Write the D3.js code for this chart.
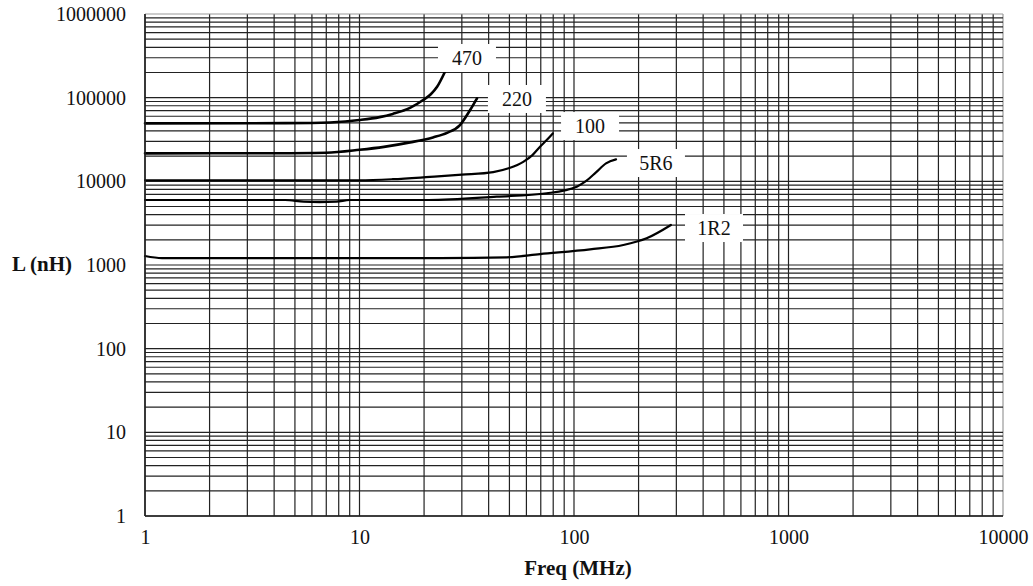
<!DOCTYPE html>
<html>
<head>
<meta charset="utf-8">
<script src="https://cdn.jsdelivr.net/npm/d3@7"></script>
<style>
  html, body { margin: 0; padding: 0; background: #fff; }
  svg { display: block; }
  text { font-family: "Liberation Serif", "Times New Roman", serif; fill: #111; }
</style>
</head>
<body>
<svg id="chart" width="1033" height="586"></svg>
<script>
// ---- data ----
const xTickValues = [1, 10, 100, 1000, 10000];
const yTickValues = [1, 10, 100, 1000, 10000, 100000, 1000000];
const xTickLabels = ["1", "10", "100", "1000", "10000"];
const yTickLabels = ["1", "10", "100", "1000", "10000", "100000", "1000000"];

const seriesNames = ["470", "220", "100", "5R6", "1R2"];

const freq470 = [1, 3, 6, 7.3, 10, 12.4, 14.3, 17.2, 19.8, 21.5, 23, 25];
const ind470  = [49300, 49500, 49800, 50500, 54000, 58500, 64000, 75500, 93800, 110000, 135000, 203000];

const freq220 = [1, 4, 7, 10, 13, 17.2, 22, 25.6, 29.4, 32.8, 35.3];
const ind220  = [21600, 21700, 22000, 23800, 25800, 29200, 33500, 38000, 47100, 71200, 98000];

const freq100 = [1, 5, 10, 14.3, 21.3, 30, 42, 50, 58, 64, 69.4, 75, 79.7];
const ind100  = [10300, 10300, 10300, 10600, 11300, 12000, 12900, 14400, 17100, 20600, 25900, 31600, 37500];

const freq5R6 = [1, 4.5, 5.5, 6.5, 7.8, 9, 21, 43.6, 74.6, 103, 114, 127, 141, 157];
const ind5R6  = [5980, 5980, 5700, 5650, 5700, 5980, 5980, 6550, 7200, 8630, 10100, 12900, 16400, 18300];

const freq1R2 = [1, 1.2, 10, 23.7, 48.6, 69.4, 118.8, 169.8, 218, 283];
const ind1R2  = [1280, 1210, 1210, 1210, 1236, 1352, 1538, 1734, 2083, 3006];

const labelFreq = [31.7, 54.2, 118.8, 241, 449.5];
const labelInd  = [298000, 96400, 45800, 16550, 2767];

const xTitle = "Freq (MHz)";
const yTitle = "L (nH)";

// ---- chart ----
const svg = d3.select("#chart");
const pLeft = 145, pRight = 1003, pTop = 14, pBottom = 516;

const x = d3.scaleLog().domain([1, 10000]).range([pLeft, pRight]);
const y = d3.scaleLog().domain([1, 1000000]).range([pBottom, pTop]);

function gridValues(lo, hi) {
  const v = [];
  for (let d = lo; d < hi; d *= 10) {
    for (let k = 1; k <= 9; k++) v.push(d * k);
  }
  v.push(hi);
  return v;
}
const xGrid = gridValues(1, 10000);
const yGrid = gridValues(1, 1000000);

const g = svg.append("g");

g.selectAll("line.vg").data(xGrid).enter().append("line")
  .attr("class", "vg")
  .attr("x1", d => x(d)).attr("x2", d => x(d))
  .attr("y1", pTop).attr("y2", pBottom)
  .attr("stroke", d => d === 10000 ? "#999" : "#222")
  .attr("stroke-width", 1.2);

g.selectAll("line.hg").data(yGrid).enter().append("line")
  .attr("class", "hg")
  .attr("y1", d => y(d)).attr("y2", d => y(d))
  .attr("x1", pLeft).attr("x2", pRight)
  .attr("stroke", d => d === 1000000 ? "#999" : "#222")
  .attr("stroke-width", 1.2);

// curves
const series = [
  { name: seriesNames[0], f: freq470, L: ind470, w: 2.6 },
  { name: seriesNames[1], f: freq220, L: ind220, w: 2.6 },
  { name: seriesNames[2], f: freq100, L: ind100, w: 2.2 },
  { name: seriesNames[3], f: freq5R6, L: ind5R6, w: 2.2 },
  { name: seriesNames[4], f: freq1R2, L: ind1R2, w: 2.2 }
];

const line = d3.line()
  .x(d => x(d[0]))
  .y(d => y(d[1]))
  .curve(d3.curveMonotoneX);

g.selectAll("path.curve").data(series).enter().append("path")
  .attr("class", "curve")
  .attr("d", s => line(s.f.map((f, i) => [f, s.L[i]])))
  .attr("fill", "none")
  .attr("stroke", "#000")
  .attr("stroke-width", s => s.w)
  .attr("stroke-linejoin", "round")
  .attr("stroke-linecap", "round");

// labels with white boxes
const labels = seriesNames.map((n, i) => ({ name: n, f: labelFreq[i], L: labelInd[i] }));
const lg = g.selectAll("g.lab").data(labels).enter().append("g").attr("class", "lab");
lg.append("rect")
  .attr("x", d => x(d.f) - 29)
  .attr("y", d => y(d.L) - 14)
  .attr("width", 58)
  .attr("height", 28)
  .attr("fill", "#fff");
lg.append("text")
  .attr("x", d => x(d.f))
  .attr("y", d => y(d.L))
  .attr("text-anchor", "middle")
  .attr("dominant-baseline", "central")
  .attr("font-size", 20)
  .text(d => d.name);

// axes tick labels
const xAxis = d3.axisBottom(x).tickValues(xTickValues)
  .tickFormat((d, i) => xTickLabels[i]).tickSize(0).tickPadding(14);
const xg = svg.append("g").attr("transform", `translate(0,${pBottom})`).call(xAxis);
xg.select(".domain").remove();
xg.selectAll("text").attr("font-size", 20)
  .attr("font-family", "Liberation Serif, Times New Roman, serif").attr("fill", "#111");

const yAxis = d3.axisLeft(y).tickValues(yTickValues)
  .tickFormat((d, i) => yTickLabels[i]).tickSize(0).tickPadding(19);
const yg = svg.append("g").attr("transform", `translate(${pLeft},0)`).call(yAxis);
yg.select(".domain").remove();
yg.selectAll("text").attr("font-size", 20)
  .attr("font-family", "Liberation Serif, Times New Roman, serif").attr("fill", "#111");

// frame (left and bottom dark)
svg.append("line").attr("x1", pLeft).attr("x2", pLeft).attr("y1", pTop).attr("y2", pBottom)
  .attr("stroke", "#222").attr("stroke-width", 1.5);
svg.append("line").attr("x1", pLeft).attr("x2", pRight).attr("y1", pBottom).attr("y2", pBottom)
  .attr("stroke", "#222").attr("stroke-width", 1.5);

// titles
svg.append("text")
  .attr("x", 578).attr("y", 575)
  .attr("text-anchor", "middle")
  .attr("font-size", 21).attr("font-weight", "bold")
  .text(xTitle);

svg.append("text")
  .attr("x", 12).attr("y", 271)
  .attr("text-anchor", "start")
  .attr("font-size", 21).attr("font-weight", "bold")
  .text(yTitle);
</script>
</body>
</html>
